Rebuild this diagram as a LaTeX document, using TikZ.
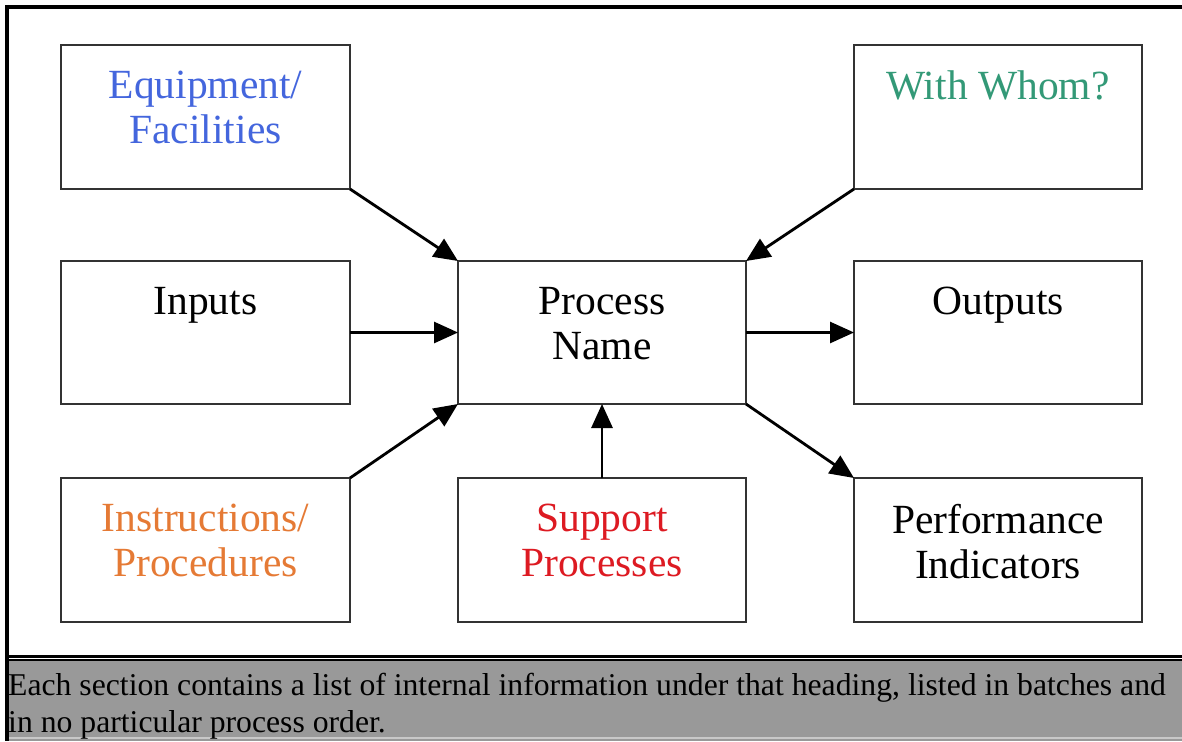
\documentclass[tikz,border=0pt]{standalone}
\usepackage{fontspec}
\setmainfont{Liberation Serif}
\usetikzlibrary{arrows.meta}
\definecolor{eqblue}{HTML}{4466DD}
\definecolor{whgreen}{HTML}{339977}
\definecolor{inorange}{HTML}{E57A35}
\definecolor{supred}{HTML}{DD1A22}
\definecolor{boxgray}{HTML}{333333}
\definecolor{bandgray}{HTML}{999999}
\definecolor{lightline}{HTML}{C8C8C8}
\begin{document}
\begin{tikzpicture}[x=1pt,y=-1pt,
  box/.style={draw=boxgray, line width=2pt, rectangle, minimum width=289pt, minimum height=144pt, inner sep=0pt, outer sep=0pt, anchor=north west},
  lbl/.style={font=\fontsize{41.5}{45}\selectfont, align=center, inner sep=0pt, anchor=north},
  arr/.style={line width=2.8pt, -{Triangle[length=24pt,width=21pt]}},
  frame/.style={line width=4pt, black}]
\useasboundingbox (0,0) rectangle (1182,741);
% band
\fill[bandgray] (5,661) rectangle (1182,741);
\draw[lightline, line width=1.5pt] (5,738) -- (1182,738);
\draw[black, line width=2.2pt] (5,656.5) -- (1182,656.5);
\draw[black, line width=1.6pt] (5,660.2) -- (1182,660.2);
\draw[frame] (5,7) -- (1182,7);
\draw[frame] (7,5) -- (7,741);
% boxes
\node[box] (equip) at (61,45) {};
\node[box, minimum width=288pt] (whom) at (854,45) {};
\node[box, minimum height=143pt] (inputs) at (61,261) {};
\node[box, minimum width=288pt, minimum height=143pt] (proc) at (458,261) {};
\node[box, minimum width=288pt, minimum height=143pt] (outputs) at (854,261) {};
\node[box] (instr) at (61,478) {};
\node[box, minimum width=288pt] (support) at (458,478) {};
\node[box, minimum width=288pt] (perf) at (854,478) {};
% labels
\node[lbl, text=eqblue] (equipT) at ([yshift=-26pt]equip.north) {Equipment/\\Facilities};
\node[lbl, text=whgreen] (whomT) at ([yshift=-26pt]whom.north) {With Whom?};
\node[lbl] (inputsT) at ([yshift=-26pt]inputs.north) {Inputs};
\node[lbl] (procT) at ([yshift=-26pt]proc.north) {Process\\Name};
\node[lbl] (outputsT) at ([yshift=-26pt]outputs.north) {Outputs};
\node[lbl, text=inorange] (instrT) at ([yshift=-26pt]instr.north) {Instructions/\\Procedures};
\node[lbl, text=supred] (supportT) at ([yshift=-26pt]support.north) {Support\\Processes};
\node[lbl] (perfT) at ([yshift=-26pt]perf.north) {Performance\\Indicators};
% arrows
\draw[arr] (equip.south east) -- (proc.north west);
\draw[arr] (whom.south west) -- (proc.north east);
\draw[arr] (inputs.east) -- (proc.west);
\draw[arr] (instr.north east) -- (proc.south west);
\draw[arr] (support.north) -- (proc.south);
\draw[arr] (proc.east) -- (outputs.west);
\draw[arr] (proc.south east) -- (perf.north west);
% note
\node[anchor=north west, inner sep=0pt, align=left, font=\fontsize{31.7}{36.5}\selectfont] (note) at (8,673) {Each section contains a list of internal information under that heading, listed in batches and\\in no particular process order.};
\end{tikzpicture}
\end{document}
